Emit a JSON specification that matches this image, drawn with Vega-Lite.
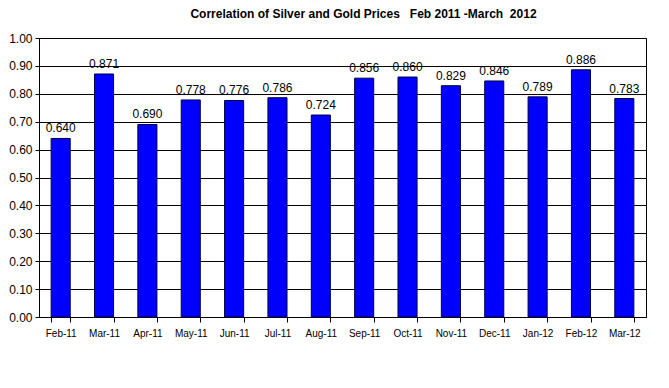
{
  "$schema": "https://vega.github.io/schema/vega-lite/v6.json",
  "autosize": "none",
  "width": 607,
  "height": 279,
  "padding": {"left": 39, "top": 38, "right": 23, "bottom": 71},
  "background": "white",
  "title": {
    "text": "Correlation of Silver and Gold Prices \u00a0\u00a0Feb 2011 -March \u00a02012",
    "font": "Liberation Sans",
    "fontSize": 12,
    "fontWeight": "bold",
    "color": "#000000",
    "anchor": "middle",
    "dx": 21,
    "offset": 11
  },
  "config": {
    "view": {"stroke": "#000000", "strokeWidth": 1},
    "font": "Liberation Sans"
  },
  "data": {
    "values": [
      {"month": "Feb-11", "corr": 0.640},
      {"month": "Mar-11", "corr": 0.871},
      {"month": "Apr-11", "corr": 0.690},
      {"month": "May-11", "corr": 0.778},
      {"month": "Jun-11", "corr": 0.776},
      {"month": "Jul-11", "corr": 0.786},
      {"month": "Aug-11", "corr": 0.724},
      {"month": "Sep-11", "corr": 0.856},
      {"month": "Oct-11", "corr": 0.860},
      {"month": "Nov-11", "corr": 0.829},
      {"month": "Dec-11", "corr": 0.846},
      {"month": "Jan-12", "corr": 0.789},
      {"month": "Feb-12", "corr": 0.886},
      {"month": "Mar-12", "corr": 0.783}
    ]
  },
  "encoding": {
    "x": {
      "field": "month",
      "type": "nominal",
      "sort": null,
      "scale": {"paddingInner": 0.56, "paddingOuter": 0.28},
      "axis": {
        "title": null,
        "labelAngle": 0,
        "labelFont": "Liberation Sans",
        "labelFontSize": 10,
        "labelColor": "#000000",
        "labelPadding": 6,
        "tickBand": "extent",
        "tickSize": 5,
        "tickColor": "#000000",
        "domainColor": "#000000",
        "grid": false
      }
    },
    "y": {
      "field": "corr",
      "type": "quantitative",
      "scale": {"domain": [0, 1], "nice": false},
      "axis": {
        "title": null,
        "values": [0, 0.1, 0.2, 0.3, 0.4, 0.5, 0.6, 0.7, 0.8, 0.9, 1.0],
        "format": ".2f",
        "labelFont": "Liberation Sans",
        "labelFontSize": 12,
        "labelColor": "#000000",
        "labelPadding": 3,
        "tickSize": 4,
        "tickColor": "#000000",
        "domainColor": "#000000",
        "grid": true,
        "gridColor": "#000000",
        "gridOpacity": 1,
        "gridWidth": 1
      }
    }
  },
  "layer": [
    {
      "mark": {"type": "bar", "color": "#0000FF", "stroke": "#000040", "strokeWidth": 1}
    },
    {
      "mark": {"type": "text", "baseline": "bottom", "dy": -3, "font": "Liberation Sans", "fontSize": 12, "color": "#000000"},
      "encoding": {"text": {"field": "corr", "type": "quantitative", "format": ".3f"}}
    }
  ]
}
